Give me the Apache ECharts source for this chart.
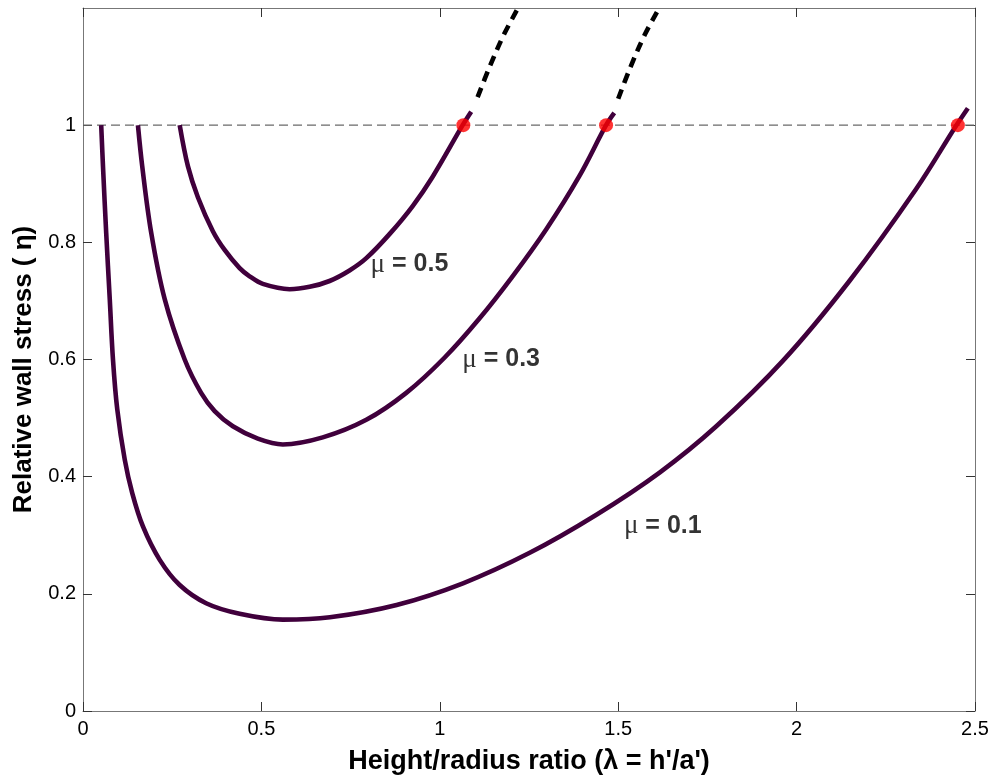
<!DOCTYPE html>
<html>
<head>
<meta charset="utf-8">
<script src="https://cdn.jsdelivr.net/npm/echarts/dist/echarts.min.js"></script>
<style>
  html, body { margin: 0; padding: 0; background: #fff; }
</style>
</head>
<body>
<div id="myChart" style="width: 993px; height: 782px"></div>
<script>
// lambda / eta
const lam01 = [0.051, 0.056, 0.065, 0.075, 0.084, 0.096, 0.117, 0.138, 0.168, 0.215, 0.271, 0.345, 0.439, 0.560, 0.692, 0.879, 1.065, 1.252, 1.439, 1.616, 1.775, 1.962, 2.148, 2.335, 2.447, 2.480];
const eta01 = [1.0, 0.930, 0.816, 0.703, 0.600, 0.515, 0.429, 0.372, 0.315, 0.258, 0.215, 0.184, 0.166, 0.156, 0.160, 0.181, 0.218, 0.270, 0.335, 0.407, 0.486, 0.598, 0.734, 0.891, 0.999, 1.029];

const lam03 = [0.154, 0.166, 0.191, 0.229, 0.285, 0.331, 0.369, 0.420, 0.490, 0.560, 0.672, 0.794, 0.906, 1.013, 1.111, 1.204, 1.298, 1.391, 1.466, 1.489];
const eta03 = [1.0, 0.930, 0.817, 0.703, 0.600, 0.543, 0.512, 0.486, 0.465, 0.455, 0.467, 0.497, 0.543, 0.603, 0.670, 0.742, 0.822, 0.913, 1.0, 1.021];

const lam05 = [0.271, 0.294, 0.322, 0.364, 0.397, 0.439, 0.467, 0.504, 0.579, 0.635, 0.691, 0.747, 0.794, 0.859, 0.924, 0.980, 1.064, 1.088];
const eta05 = [1.0, 0.930, 0.877, 0.819, 0.787, 0.756, 0.742, 0.729, 0.720, 0.724, 0.734, 0.752, 0.773, 0.814, 0.862, 0.912, 1.0, 1.023];

// dashed continuation above eta = 1
const lamExt05 = [1.106, 1.14, 1.18, 1.224];
const etaExt05 = [1.048, 1.10, 1.155, 1.205];
const lamExt03 = [1.50, 1.535, 1.575, 1.615];
const etaExt03 = [1.045, 1.10, 1.155, 1.20];

// red points where eta reaches 1
const lamDots = [1.066, 1.466, 2.452];
const etaDots = [1, 1, 1];

// curve labels
const muLabels = ['0.5', '0.3', '0.1'];
const labelLam = [0.806, 1.063, 1.516];
const labelEta = [0.762, 0.600, 0.316];

const xTicks = [0, 0.5, 1, 1.5, 2, 2.5];
const yTicks = [0, 0.2, 0.4, 0.6, 0.8, 1];

const pairs = (xs, ys) => xs.map((x, i) => [x, ys[i]]);

const curveColor = '#40003c';
const axisFont = 'Liberation Sans, Arial, sans-serif';

let myChart = echarts.init(document.getElementById('myChart'));

const axisLine = { show: true, onZero: false, lineStyle: { color: '#777', width: 1 } };
const tickStyle = { show: true, inside: true, length: 9, lineStyle: { color: '#333' } };

myChart.setOption({
  animation: false,
  backgroundColor: '#fff',
  grid: { left: 83, top: 8, right: 18, bottom: 71, containLabel: false, outerBoundsMode: 'none' },
  xAxis: [
    {
      type: 'value', min: 0, max: 2.5, interval: 0.5, position: 'bottom',
      name: "Height/radius ratio (λ = h'/a')",
      nameLocation: 'middle', nameGap: 37,
      nameTextStyle: { fontFamily: axisFont, fontSize: 27, fontWeight: 'bold', color: '#000' },
      axisLine: axisLine,
      axisTick: tickStyle,
      splitLine: { show: false },
      axisLabel: {
        margin: 8, fontFamily: axisFont, fontSize: 20, color: '#000',
        formatter: v => (xTicks.indexOf(v) >= 0 ? String(v) : '')
      }
    },
    {
      type: 'value', min: 0, max: 2.5, interval: 0.5, position: 'top',
      axisLine: axisLine,
      axisTick: tickStyle,
      splitLine: { show: false },
      axisLabel: { show: false }
    }
  ],
  yAxis: [
    {
      type: 'value', min: 0, max: 1.2, interval: 0.2, position: 'left',
      name: 'Relative wall stress ( η)',
      nameLocation: 'middle', nameGap: 41, nameRotate: 90,
      nameTextStyle: { fontFamily: axisFont, fontSize: 26, fontWeight: 'bold', color: '#000',
        padding: [0, 20, 0, 0] },
      axisLine: axisLine,
      axisTick: Object.assign({}, tickStyle, { customValues: yTicks }),
      splitLine: { show: false },
      axisLabel: {
        margin: 7, fontFamily: axisFont, fontSize: 20, color: '#000',
        formatter: v => (v <= 1.0001 ? String(+v.toFixed(1)) : '')
      }
    },
    {
      type: 'value', min: 0, max: 1.2, interval: 0.2, position: 'right',
      axisLine: axisLine,
      axisTick: Object.assign({}, tickStyle, { customValues: yTicks }),
      splitLine: { show: false },
      axisLabel: { show: false }
    }
  ],
  series: [
    {
      name: 'eta = 1',
      type: 'line',
      data: [[0, 1], [2.5, 1]],
      showSymbol: false,
      lineStyle: { color: '#6a6a6a', width: 1.3, type: [9, 5] },
      z: 1
    },
    {
      name: 'mu 0.1', type: 'line', smooth: 0.35, showSymbol: false,
      data: pairs(lam01, eta01),
      lineStyle: { color: curveColor, width: 4.6 }, z: 3
    },
    {
      name: 'mu 0.3', type: 'line', smooth: 0.35, showSymbol: false,
      data: pairs(lam03, eta03),
      lineStyle: { color: curveColor, width: 4.6 }, z: 3
    },
    {
      name: 'mu 0.5', type: 'line', smooth: 0.35, showSymbol: false,
      data: pairs(lam05, eta05),
      lineStyle: { color: curveColor, width: 4.6 }, z: 3
    },
    {
      name: 'ext 0.5', type: 'line', smooth: 0.35, showSymbol: false,
      data: pairs(lamExt05, etaExt05),
      lineStyle: { color: '#000', width: 4.6, type: [10, 7] }, z: 3
    },
    {
      name: 'ext 0.3', type: 'line', smooth: 0.35, showSymbol: false,
      data: pairs(lamExt03, etaExt03),
      lineStyle: { color: '#000', width: 4.6, type: [10, 7] }, z: 3
    },
    {
      name: 'limit', type: 'scatter', symbol: 'circle', symbolSize: 14,
      data: pairs(lamDots, etaDots),
      itemStyle: { color: '#ff0000' }, z: 5
    },
    {
      name: 'labels', type: 'scatter', symbolSize: 0, silent: true,
      data: labelLam.map((x, i) => [x, labelEta[i]]),
      label: {
        show: true, position: 'right', distance: 0, color: '#000',
        formatter: p => '{m|μ}{b| = ' + muLabels[p.dataIndex] + '}',
        rich: {
          m: { fontFamily: 'Liberation Serif, serif', fontSize: 27, color: '#000' },
          b: { fontFamily: axisFont, fontSize: 25, fontWeight: 'bold', color: '#000' }
        }
      },
      z: 6
    }
  ]
});
</script>
</body>
</html>
